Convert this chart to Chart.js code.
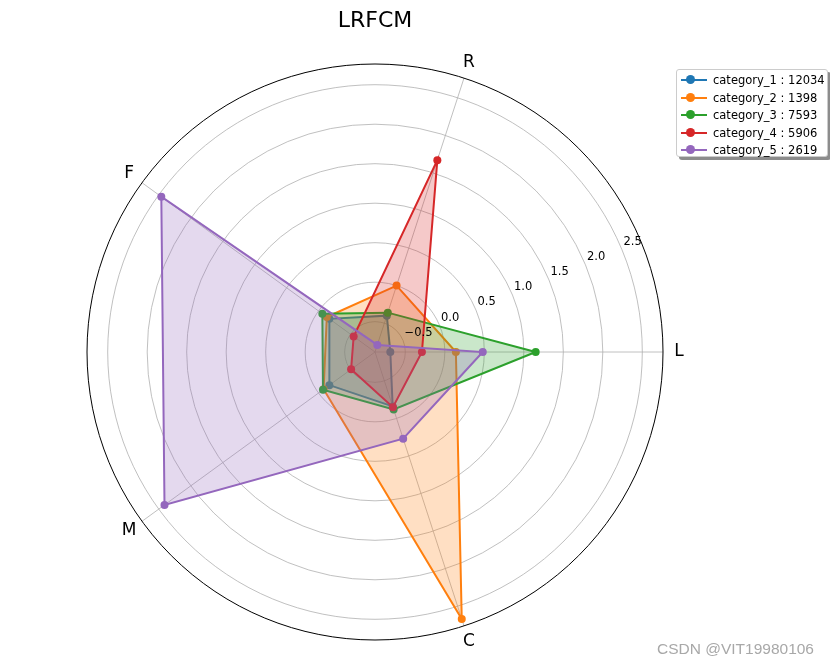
<!DOCTYPE html>
<html>
<head>
<meta charset="utf-8">
<script src="https://cdn.jsdelivr.net/npm/chart.js@4.4.1/dist/chart.umd.min.js"></script>
<style>
html,body{margin:0;padding:0;background:#fff;}
#wrap{position:relative;width:830px;height:664px;overflow:hidden;}
#chart{position:absolute;left:0;top:0;}
#legend{position:absolute;left:676px;top:69px;width:152px;height:88px;box-sizing:border-box;border:1px solid #cccccc;border-radius:3px;background:#fff;box-shadow:3px 3px 0 rgba(0,0,0,0.45);font-family:'DejaVu Sans',sans-serif;font-size:11.5px;color:#000;}
.row{position:absolute;left:0;height:16px;line-height:16px;white-space:nowrap;}
.sw{position:absolute;left:4px;top:7px;width:26px;height:2px;}
.dot{position:absolute;left:9px;top:3px;width:9px;height:9px;border-radius:50%;}
.txt{position:absolute;left:36px;top:0;}
#mark{position:absolute;right:16px;top:640px;font-family:'Liberation Sans',Arial,sans-serif;font-size:15.5px;color:#a8a8a8;white-space:nowrap;}
</style>
</head>
<body>
<div id="wrap">
<canvas id="chart" width="830" height="664"></canvas>
<div id="legend"></div>
<div id="mark">CSDN @VIT19980106</div>
</div>
<script>
// ---- data ----
const axisNames = ['L', 'R', 'F', 'M', 'C'];
const categoryNames = ['category_1', 'category_2', 'category_3', 'category_4', 'category_5'];
const categoryCounts = [12034, 1398, 7593, 5906, 2619];
const category1 = [-0.69, -0.40, -0.17, -0.17, -0.16];
const category2 = [0.14, 0.00, -0.13, -0.08, 2.67];
const category3 = [1.15, -0.36, -0.06, -0.07, -0.12];
const category4 = [-0.29, 1.67, -0.55, -0.51, -0.15];
const category5 = [0.48, -0.79, 2.46, 2.41, 0.27];
const radialTicks = [-0.5, 0.0, 0.5, 1.0, 1.5, 2.0, 2.5];
const radialMin = -0.884;
const radialMax = 2.762;

const seriesValues = [category1, category2, category3, category4, category5];
const colors = ['#1f77b4', '#ff7f0e', '#2ca02c', '#d62728', '#9467bd'];
const fills = ['rgba(31,119,180,0.25)', 'rgba(255,127,14,0.25)', 'rgba(44,160,44,0.25)', 'rgba(214,39,40,0.25)', 'rgba(148,103,189,0.25)'];

// Chart.js goes clockwise from the start angle; matplotlib goes counter-clockwise.
const plotOrder = [0, 4, 3, 2, 1];

const datasets = seriesValues.map((vals, k) => ({
  label: categoryNames[k] + ' : ' + categoryCounts[k],
  data: plotOrder.map(i => vals[i]),
  borderColor: colors[k],
  backgroundColor: fills[k],
  pointBackgroundColor: colors[k],
  pointBorderColor: colors[k],
  pointBorderWidth: 0,
  pointRadius: 4,
  pointHoverRadius: 4,
  borderWidth: 2,
  tension: 0,
  fill: 'start',
  order: seriesValues.length - k
}));

const decor = {
  id: 'decor',
  afterDatasetsDraw(chart) {
    const s = chart.scales.r;
    const ctx = chart.ctx;
    ctx.save();
    // outer spine
    ctx.beginPath();
    ctx.arc(s.xCenter, s.yCenter, s.drawingArea, 0, Math.PI * 2);
    ctx.strokeStyle = '#000';
    ctx.lineWidth = 1;
    ctx.stroke();
    // radial tick labels at 22.5 degrees
    const a = 22.5 * Math.PI / 180;
    ctx.font = '11.5px "DejaVu Sans"';
    ctx.fillStyle = '#000';
    ctx.textAlign = 'left';
    ctx.textBaseline = 'bottom';
    radialTicks.forEach(v => {
      const r = s.getDistanceFromCenterForValue(v);
      const x = s.xCenter + r * Math.cos(a) + 1.5;
      const y = s.yCenter - r * Math.sin(a) - 2;
      ctx.fillText(v.toFixed(1).replace('-', '\u2212'), x, y);
    });
    // axis (point) labels
    ctx.font = '17px "DejaVu Sans"';
    ctx.textAlign = 'center';
    ctx.textBaseline = 'middle';
    chart.data.labels.forEach((lab, i) => {
      const p = s.getPointPosition(i, s.drawingArea + 16);
      ctx.fillText(lab, p.x, p.y);
    });
    ctx.restore();
  }
};

new Chart(document.getElementById('chart'), {
  type: 'radar',
  data: { labels: plotOrder.map(i => axisNames[i]), datasets: datasets },
  options: {
    responsive: false,
    animation: false,
    events: [],
    layout: { padding: { left: 87, right: 167, top: 0, bottom: 24 } },
    plugins: {
      legend: { display: false },
      tooltip: { enabled: false },
      title: {
        display: true,
        text: 'LRFCM',
        color: '#000',
        font: { family: 'DejaVu Sans', size: 22, weight: 'normal', lineHeight: 1.2 },
        padding: { top: 8, bottom: 29.6 }
      }
    },
    scales: {
      r: {
        min: radialMin,
        max: radialMax,
        startAngle: 90,
        ticks: { display: false, stepSize: 0.5, includeBounds: false },
        grid: { circular: true, color: '#b0b0b0', lineWidth: 0.8 },
        angleLines: { display: true, color: '#b0b0b0', lineWidth: 0.8 },
        pointLabels: { display: false }
      }
    }
  },
  plugins: [decor]
});

// legend (HTML, real text)
const lg = document.getElementById('legend');
datasets.forEach((d, k) => {
  const row = document.createElement('div');
  row.className = 'row';
  row.style.top = (2 + k * 17.6) + 'px';
  row.style.width = '150px';
  row.innerHTML = '<span class="sw" style="background:' + colors[k] + '"></span>' +
    '<span class="dot" style="background:' + colors[k] + '"></span>' +
    '<span class="txt"></span>';
  row.querySelector('.txt').textContent = d.label;
  lg.appendChild(row);
});
</script>
</body>
</html>
